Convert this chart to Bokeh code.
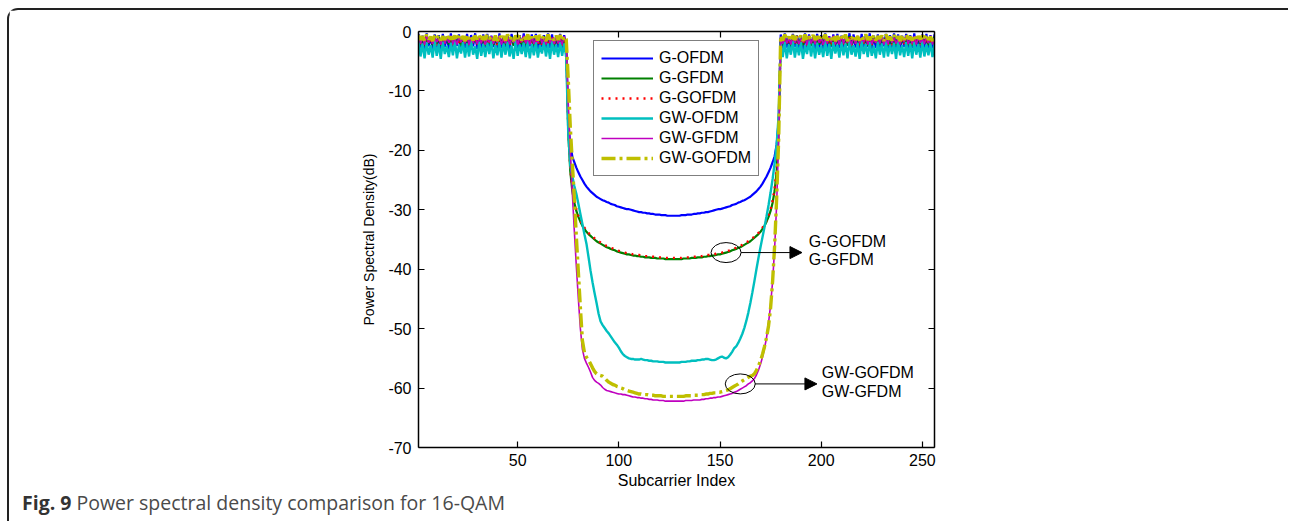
from bokeh.plotting import figure
from bokeh.layouts import column
from bokeh.models import (Range1d, LinearAxis, FixedTicker, CustomJSTickFormatter,
                          Legend, LegendItem, Label, Arrow, NormalHead, Div)
from bokeh.embed import file_html
from bokeh.resources import INLINE

# ---------------- data ----------------
x_ticks = [50, 100, 150, 200, 250]
y_ticks = [-70, -60, -50, -40, -30, -20, -10, 0]
series_names = ["G-OFDM", "G-GFDM", "G-GOFDM", "GW-OFDM", "GW-GFDM", "GW-GOFDM"]

# G-OFDM
g_ofdm_band_l = [-0.4,-2.8,-0.7,-3.1,-0.3,-2.5,-0.9,-3.0,-0.5,-2.7,
                 -0.6,-3.2,-0.4,-2.6,-0.8,-2.9,-0.3,-3.1,-0.7,-2.4,
                 -0.5,-3.0,-0.9,-2.8,-0.4,-3.2,-0.6,-2.5,-0.3,-2.9,
                 -0.8,-3.1,-0.5,-2.7,-0.4,-3.0,-0.7,-2.6,-0.6,-3.2,
                 -0.3,-2.8,-0.9,-2.9,-0.5,-3.1,-0.4,-2.4,-0.8,-3.0,
                 -0.6,-2.7,-0.3,-3.2,-0.7,-2.5,-0.5,-2.9,-0.4,-3.1,
                 -0.9,-2.6,-0.6,-3.0,-0.3,-2.8,-0.5,-3.2,-0.7,-2.7,
                 -0.4,-3.0,-0.6,-2.9]
g_ofdm_null_l = [-15.0,-19.0,-21.0,-22.0,-22.9,-23.7,-24.4,-25.0,-25.6,-26.1,
                 -26.5,-26.9,-27.2,-27.5,-27.8,-28.0,-28.2,-28.4,-28.5,-28.7,
                 -28.8,-29.0,-29.1,-29.2,-29.4,-29.5,-29.6,-29.7,-29.8,-29.9,
                 -29.9,-30.0,-30.1,-30.2,-30.3,-30.4,-30.4,-30.5,-30.5,-30.6,
                 -30.6,-30.7,-30.7,-30.8,-30.8,-30.8,-30.9,-30.9,-30.9,-31.0,
                 -31.0,-31.0,-31.0]
g_ofdm_null_r = [-31.0,-31.0,-31.0,-30.9,-30.9,-30.9,-30.8,-30.8,-30.8,-30.7,
                 -30.7,-30.6,-30.6,-30.5,-30.5,-30.4,-30.4,-30.3,-30.2,-30.1,
                 -30.0,-29.9,-29.9,-29.8,-29.7,-29.6,-29.5,-29.4,-29.2,-29.1,
                 -29.0,-28.8,-28.7,-28.5,-28.4,-28.2,-28.0,-27.8,-27.5,-27.2,
                 -26.9,-26.5,-26.1,-25.6,-25.0,-24.4,-23.7,-22.9,-22.0,-21.0,
                 -19.0,-15.0]
g_ofdm_band_r = [-0.5,-3.0,-0.3,-2.7,-0.8,-3.1,-0.4,-2.6,-0.6,-2.9,
                 -0.7,-3.2,-0.3,-2.8,-0.5,-2.5,-0.9,-3.0,-0.4,-2.7,
                 -0.6,-3.1,-0.3,-2.9,-0.8,-2.6,-0.5,-3.2,-0.4,-2.8,
                 -0.7,-3.0,-0.6,-2.4,-0.3,-3.1,-0.5,-2.7,-0.9,-2.9,
                 -0.4,-3.2,-0.6,-2.6,-0.3,-3.0,-0.7,-2.8,-0.5,-3.1,
                 -0.8,-2.5,-0.4,-2.9,-0.6,-3.2,-0.3,-2.7,-0.5,-3.0,
                 -0.7,-2.6,-0.4,-3.1,-0.6,-2.8,-0.3,-2.9,-0.8,-3.0,
                 -0.5,-2.7,-0.4,-3.2,-0.6,-2.8,-0.5]

# G-GFDM
g_gfdm_band_l = [-1.0,-2.2,-0.9,-2.4,-1.2,-2.0,-0.8,-2.3,-1.1,-2.1,
                 -0.9,-2.4,-1.3,-1.9,-1.0,-2.2,-0.8,-2.3,-1.2,-2.0,
                 -1.1,-2.4,-0.9,-2.1,-1.0,-2.3,-1.3,-1.9,-0.8,-2.2,
                 -1.2,-2.0,-1.0,-2.4,-0.9,-2.1,-1.1,-2.3,-0.8,-2.2,
                 -1.3,-1.9,-1.0,-2.3,-1.2,-2.1,-0.9,-2.4,-1.1,-2.0,
                 -0.8,-2.2,-1.0,-2.3,-1.3,-2.0,-0.9,-2.4,-1.2,-2.1,
                 -1.1,-2.2,-0.8,-2.3,-1.0,-1.9,-1.2,-2.4,-0.9,-2.1,
                 -1.0,-2.2,-1.1,-2.3]
g_gfdm_null_l = [-17.0,-23.5,-26.8,-28.8,-30.2,-31.2,-32.0,-32.7,-33.2,-33.7,
                 -34.1,-34.4,-34.7,-35.0,-35.3,-35.5,-35.7,-35.9,-36.1,-36.3,
                 -36.4,-36.6,-36.7,-36.8,-37.0,-37.1,-37.2,-37.3,-37.4,-37.5,
                 -37.5,-37.6,-37.7,-37.7,-37.8,-37.8,-37.9,-37.9,-38.0,-38.0,
                 -38.0,-38.1,-38.1,-38.1,-38.2,-38.2,-38.2,-38.2,-38.3,-38.3,
                 -38.3,-38.3,-38.3]
g_gfdm_null_r = [-38.3,-38.3,-38.3,-38.3,-38.2,-38.2,-38.2,-38.2,-38.1,-38.1,
                 -38.1,-38.0,-38.0,-38.0,-37.9,-37.9,-37.8,-37.8,-37.7,-37.7,
                 -37.6,-37.5,-37.5,-37.4,-37.3,-37.2,-37.1,-37.0,-36.8,-36.7,
                 -36.6,-36.4,-36.3,-36.1,-35.9,-35.7,-35.5,-35.3,-35.0,-34.7,
                 -34.4,-34.1,-33.7,-33.2,-32.7,-32.0,-31.2,-30.2,-28.8,-26.8,
                 -23.5,-17.0]
g_gfdm_band_r = [-1.1,-2.3,-0.9,-2.1,-1.2,-2.4,-1.0,-2.0,-0.8,-2.2,
                 -1.3,-2.3,-1.0,-1.9,-0.9,-2.4,-1.1,-2.1,-1.2,-2.2,
                 -0.8,-2.3,-1.0,-2.0,-1.3,-2.4,-0.9,-2.1,-1.1,-2.2,
                 -1.2,-1.9,-1.0,-2.3,-0.8,-2.4,-1.1,-2.0,-0.9,-2.2,
                 -1.3,-2.1,-1.0,-2.4,-1.2,-2.3,-0.9,-1.9,-1.1,-2.2,
                 -0.8,-2.0,-1.0,-2.4,-1.2,-2.1,-0.9,-2.3,-1.1,-2.2,
                 -1.3,-1.9,-1.0,-2.3,-0.8,-2.4,-1.2,-2.1,-0.9,-2.2,
                 -1.1,-2.0,-1.0,-2.3,-1.2,-2.1,-0.9]

# G-GOFDM
g_gofdm_band_l = [-0.9,-2.1,-1.1,-2.3,-0.8,-2.2,-1.2,-2.0,-1.0,-2.4,
                  -1.3,-2.2,-0.9,-2.1,-1.1,-1.9,-0.8,-2.3,-1.0,-2.4,
                  -1.2,-2.0,-0.9,-2.2,-1.3,-2.3,-1.0,-2.1,-0.8,-2.4,
                  -1.1,-1.9,-1.2,-2.2,-0.9,-2.3,-1.0,-2.0,-1.3,-2.4,
                  -0.8,-2.1,-1.1,-2.2,-1.0,-2.3,-1.2,-1.9,-0.9,-2.4,
                  -1.3,-2.0,-0.8,-2.2,-1.1,-2.3,-1.0,-2.1,-1.2,-2.4,
                  -0.9,-2.2,-1.0,-1.9,-1.3,-2.3,-0.8,-2.1,-1.1,-2.2,
                  -1.0,-2.4,-0.9,-2.1]
g_gofdm_null_l = [-16.5,-23.0,-26.4,-28.5,-29.9,-30.9,-31.8,-32.5,-33.0,-33.5,
                  -33.9,-34.2,-34.5,-34.8,-35.1,-35.3,-35.5,-35.7,-35.9,-36.1,
                  -36.2,-36.4,-36.5,-36.6,-36.8,-36.9,-37.0,-37.1,-37.2,-37.3,
                  -37.3,-37.4,-37.5,-37.5,-37.6,-37.6,-37.7,-37.7,-37.8,-37.8,
                  -37.8,-37.9,-37.9,-37.9,-38.0,-38.0,-38.0,-38.0,-38.1,-38.1,
                  -38.1,-38.1,-38.1]
g_gofdm_null_r = [-38.1,-38.1,-38.1,-38.1,-38.0,-38.0,-38.0,-38.0,-37.9,-37.9,
                  -37.9,-37.8,-37.8,-37.8,-37.7,-37.7,-37.6,-37.6,-37.5,-37.5,
                  -37.4,-37.3,-37.3,-37.2,-37.1,-37.0,-36.9,-36.8,-36.6,-36.5,
                  -36.4,-36.2,-36.1,-35.9,-35.7,-35.5,-35.3,-35.1,-34.8,-34.5,
                  -34.2,-33.9,-33.5,-33.0,-32.5,-31.8,-30.9,-29.9,-28.5,-26.4,
                  -23.0,-16.5]
g_gofdm_band_r = [-1.0,-2.2,-1.2,-2.4,-0.9,-2.0,-1.1,-2.3,-0.8,-2.1,
                  -1.3,-2.2,-1.0,-2.4,-0.9,-1.9,-1.2,-2.3,-1.1,-2.1,
                  -0.8,-2.2,-1.0,-2.0,-1.3,-2.4,-0.9,-2.3,-1.1,-2.1,
                  -1.2,-2.2,-0.8,-1.9,-1.0,-2.4,-1.3,-2.1,-0.9,-2.3,
                  -1.1,-2.0,-1.2,-2.2,-0.8,-2.4,-1.0,-2.3,-1.3,-2.1,
                  -0.9,-1.9,-1.1,-2.2,-1.0,-2.4,-1.2,-2.0,-0.8,-2.3,
                  -1.3,-2.1,-0.9,-2.2,-1.1,-2.4,-1.0,-1.9,-1.2,-2.3,
                  -0.8,-2.1,-1.0,-2.2,-1.1,-2.4,-0.9]

# GW-OFDM
gw_ofdm_band_l = [-1.6,-4.2,-2.0,-4.5,-1.8,-3.9,-2.3,-4.4,-1.5,-4.1,
                  -2.1,-4.6,-1.7,-3.8,-2.4,-4.3,-1.9,-4.0,-1.6,-4.5,
                  -2.2,-3.7,-1.8,-4.4,-2.0,-4.2,-1.5,-3.9,-2.5,-4.6,
                  -1.7,-4.1,-2.1,-4.3,-1.9,-3.8,-1.6,-4.5,-2.3,-4.0,
                  -1.8,-4.4,-2.0,-3.9,-1.7,-4.2,-2.4,-4.6,-1.5,-4.1,
                  -2.2,-3.8,-1.9,-4.3,-1.6,-4.5,-2.1,-4.0,-1.8,-4.4,
                  -2.3,-3.7,-1.7,-4.2,-2.0,-4.6,-1.6,-3.9,-2.2,-4.3,
                  -1.8,-4.1,-2.0,-4.4]
gw_ofdm_null_l = [-17.0,-22.5,-24.3,-26.0,-27.3,-29.0,-30.7,-32.4,-34.1,-35.7,
                  -37.9,-40.2,-42.2,-44.0,-45.7,-47.5,-48.8,-49.4,-49.9,-50.4,
                  -50.8,-51.3,-51.8,-52.3,-52.7,-53.2,-53.8,-54.3,-54.6,-54.8,
                  -55.0,-55.1,-55.1,-55.2,-55.2,-55.2,-55.1,-55.2,-55.3,-55.3,
                  -55.4,-55.4,-55.5,-55.5,-55.5,-55.6,-55.6,-55.6,-55.7,-55.7,
                  -55.7,-55.7,-55.7]
gw_ofdm_null_r = [-55.7,-55.7,-55.7,-55.6,-55.6,-55.6,-55.5,-55.5,-55.4,-55.4,
                  -55.4,-55.3,-55.3,-55.2,-55.2,-55.1,-55.1,-55.2,-55.3,-55.3,
                  -55.2,-55.0,-54.8,-54.7,-54.9,-55.0,-54.8,-54.4,-53.9,-53.3,
                  -53.0,-52.4,-51.7,-50.9,-49.9,-48.7,-47.3,-45.7,-43.9,-42.0,
                  -40.0,-38.1,-36.3,-34.6,-32.9,-31.1,-29.2,-27.1,-24.8,-22.2,
                  -19.0,-14.0]
gw_ofdm_band_r = [-2.0,-4.3,-1.7,-4.5,-2.2,-3.9,-1.6,-4.4,-2.1,-4.0,
                  -1.8,-4.6,-2.3,-3.8,-1.5,-4.2,-2.0,-4.5,-1.9,-3.9,
                  -2.4,-4.3,-1.6,-4.1,-2.1,-4.6,-1.8,-3.7,-2.2,-4.4,
                  -1.7,-4.0,-2.0,-4.5,-1.5,-3.9,-2.3,-4.2,-1.9,-4.6,
                  -1.6,-3.8,-2.1,-4.3,-1.8,-4.1,-2.4,-4.5,-1.7,-3.9,
                  -2.0,-4.4,-1.6,-4.2,-2.2,-3.8,-1.9,-4.6,-1.5,-4.0,
                  -2.3,-4.3,-1.8,-4.1,-2.0,-4.5,-1.7,-3.9,-2.1,-4.4,
                  -1.6,-4.2,-2.2,-4.0,-1.9,-4.3,-2.0]

# GW-GFDM
gw_gfdm_band_l = [-0.8,-2.0,-1.0,-2.2,-0.7,-1.9,-1.1,-2.1,-0.9,-1.8,
                  -1.2,-2.2,-0.8,-2.0,-1.0,-1.9,-0.7,-2.1,-1.1,-2.2,
                  -0.9,-1.8,-1.2,-2.0,-0.8,-2.2,-1.0,-1.9,-0.7,-2.1,
                  -1.1,-2.0,-0.9,-2.2,-1.2,-1.8,-0.8,-2.1,-1.0,-1.9,
                  -0.7,-2.2,-1.1,-2.0,-0.9,-2.1,-1.2,-1.9,-0.8,-2.2,
                  -1.0,-1.8,-0.7,-2.0,-1.1,-2.2,-0.9,-2.1,-1.2,-1.9,
                  -0.8,-2.0,-1.0,-2.2,-0.7,-1.9,-1.1,-2.1,-0.9,-2.0,
                  -1.2,-2.2,-0.8,-1.9]
gw_gfdm_null_l = [-12.0,-20.0,-27.0,-33.5,-39.5,-45.0,-50.0,-53.5,-55.0,-55.8,
                  -56.5,-57.3,-58.2,-58.7,-59.0,-59.2,-59.5,-59.9,-60.2,-60.4,
                  -60.5,-60.6,-60.7,-60.8,-60.9,-61.0,-61.0,-61.1,-61.1,-61.2,
                  -61.3,-61.4,-61.5,-61.5,-61.6,-61.6,-61.7,-61.7,-61.8,-61.8,
                  -61.9,-61.9,-62.0,-62.0,-62.0,-62.1,-62.1,-62.1,-62.2,-62.2,
                  -62.2,-62.2,-62.2]
gw_gfdm_null_r = [-62.2,-62.2,-62.2,-62.2,-62.2,-62.1,-62.1,-62.1,-62.1,-62.0,
                  -62.0,-62.0,-62.0,-61.9,-61.9,-61.8,-61.8,-61.7,-61.7,-61.6,
                  -61.6,-61.5,-61.5,-61.4,-61.3,-61.2,-61.1,-61.0,-60.9,-60.7,
                  -60.6,-60.4,-60.2,-60.0,-59.8,-59.6,-59.3,-59.1,-58.8,-58.4,
                  -57.8,-57.0,-56.0,-54.8,-53.3,-51.5,-49.0,-46.0,-42.0,-36.5,
                  -29.0,-18.0]
gw_gfdm_band_r = [-0.9,-2.1,-0.7,-2.0,-1.1,-2.2,-0.8,-1.9,-1.0,-2.1,
                  -1.2,-1.8,-0.9,-2.2,-0.7,-2.0,-1.1,-2.1,-0.8,-1.9,
                  -1.0,-2.2,-1.2,-2.0,-0.9,-1.8,-0.7,-2.1,-1.1,-2.2,
                  -0.8,-2.0,-1.0,-1.9,-1.2,-2.2,-0.9,-2.1,-0.7,-2.0,
                  -1.1,-1.8,-0.8,-2.2,-1.0,-2.1,-1.2,-1.9,-0.9,-2.0,
                  -0.7,-2.2,-1.1,-2.1,-0.8,-1.9,-1.0,-2.0,-1.2,-2.2,
                  -0.9,-1.8,-0.7,-2.1,-1.1,-2.0,-0.8,-2.2,-1.0,-1.9,
                  -1.2,-2.1,-0.9,-2.0,-0.7,-2.2,-1.1]

# GW-GOFDM
gw_gofdm_band_l = [-0.6,-1.4,-0.8,-1.5,-0.5,-1.3,-0.9,-1.6,-0.7,-1.2,
                   -0.6,-1.5,-0.8,-1.4,-0.5,-1.6,-0.9,-1.3,-0.7,-1.5,
                   -0.6,-1.2,-0.8,-1.6,-0.5,-1.4,-0.9,-1.5,-0.7,-1.3,
                   -0.6,-1.6,-0.8,-1.4,-0.5,-1.2,-0.9,-1.5,-0.7,-1.6,
                   -0.6,-1.3,-0.8,-1.5,-0.5,-1.4,-0.9,-1.6,-0.7,-1.2,
                   -0.6,-1.5,-0.8,-1.3,-0.5,-1.6,-0.9,-1.4,-0.7,-1.5,
                   -0.6,-1.2,-0.8,-1.6,-0.5,-1.3,-0.9,-1.5,-0.7,-1.4,
                   -0.6,-1.6,-0.8,-1.3]
gw_gofdm_null_l = [-8.0,-16.0,-22.0,-28.0,-34.5,-40.5,-46.5,-52.0,-54.0,-54.8,
                   -55.3,-55.9,-56.6,-57.2,-57.6,-57.8,-57.9,-58.0,-58.3,-58.7,
                   -59.0,-59.2,-59.4,-59.5,-59.7,-59.8,-60.0,-60.1,-60.3,-60.4,
                   -60.5,-60.6,-60.7,-60.8,-60.9,-61.0,-61.0,-61.1,-61.1,-61.1,
                   -61.2,-61.2,-61.2,-61.3,-61.3,-61.3,-61.3,-61.4,-61.4,-61.4,
                   -61.4,-61.4,-61.4]
gw_gofdm_null_r = [-61.4,-61.4,-61.4,-61.4,-61.4,-61.3,-61.3,-61.3,-61.3,-61.2,
                   -61.2,-61.2,-61.1,-61.1,-61.1,-61.0,-61.0,-60.9,-60.9,-60.8,
                   -60.8,-60.7,-60.7,-60.6,-60.5,-60.4,-60.3,-60.1,-59.9,-59.7,
                   -59.5,-59.3,-59.0,-58.8,-58.6,-58.4,-58.2,-58.0,-57.9,-57.6,
                   -57.0,-56.3,-55.4,-54.3,-53.0,-51.5,-49.5,-46.5,-42.0,-36.0,
                   -28.0,-18.0]
gw_gofdm_band_r = [-0.7,-1.5,-0.5,-1.3,-0.9,-1.6,-0.6,-1.4,-0.8,-1.2,
                   -0.7,-1.6,-0.5,-1.5,-0.9,-1.3,-0.6,-1.4,-0.8,-1.6,
                   -0.7,-1.2,-0.5,-1.5,-0.9,-1.4,-0.6,-1.6,-0.8,-1.3,
                   -0.7,-1.5,-0.5,-1.6,-0.9,-1.2,-0.6,-1.4,-0.8,-1.5,
                   -0.7,-1.3,-0.5,-1.4,-0.9,-1.6,-0.6,-1.5,-0.8,-1.2,
                   -0.7,-1.6,-0.5,-1.3,-0.9,-1.5,-0.6,-1.4,-0.8,-1.6,
                   -0.7,-1.4,-0.5,-1.2,-0.9,-1.5,-0.6,-1.6,-0.8,-1.3,
                   -0.7,-1.5,-0.5,-1.4,-0.9,-1.6,-0.6]

g_ofdm = g_ofdm_band_l + g_ofdm_null_l + g_ofdm_null_r + g_ofdm_band_r
g_gfdm = g_gfdm_band_l + g_gfdm_null_l + g_gfdm_null_r + g_gfdm_band_r
g_gofdm = g_gofdm_band_l + g_gofdm_null_l + g_gofdm_null_r + g_gofdm_band_r
gw_ofdm = gw_ofdm_band_l + gw_ofdm_null_l + gw_ofdm_null_r + gw_ofdm_band_r
gw_gfdm = gw_gfdm_band_l + gw_gfdm_null_l + gw_gfdm_null_r + gw_gfdm_band_r
gw_gofdm = gw_gofdm_band_l + gw_gofdm_null_l + gw_gofdm_null_r + gw_gofdm_band_r

all_series = [g_ofdm, g_gfdm, g_gofdm, gw_ofdm, gw_gfdm, gw_gofdm]
for nm, s in zip(series_names, all_series):
    assert len(s) == 256, (nm, len(s))
subcarrier = list(range(1, 257))

# ---------------- figure ----------------
FONT = "Liberation Sans"
# the figure canvas starts at page (9, 10): 7/8 px margin + 2 px border of the box
p = figure(width=1281, height=484, output_backend="svg", toolbar_location=None,
           x_range=Range1d(1, 256), y_range=Range1d(-70, 0),
           min_border_left=409, min_border_right=354, min_border_top=21, min_border_bottom=47,
           background_fill_color="white", border_fill_color="white")
p.outline_line_color = None
p.xgrid.visible = False
p.ygrid.visible = False

styles = [
    dict(color="#0000FF", line_width=2.2, line_dash="solid"),
    dict(color="#008000", line_width=2.2, line_dash="solid"),
    dict(color="#FF0000", line_width=2.4, line_dash="2 5"),
    dict(color="#00BFBF", line_width=2.4, line_dash="solid"),
    dict(color="#BF00BF", line_width=1.6, line_dash="solid"),
    dict(color="#BFBF00", line_width=3.4, line_dash="14 4 3 4"),
]
renderers = []
for s, st in zip(all_series, styles):
    r = p.line(subcarrier, s, line_color=st["color"], line_width=st["line_width"],
               line_dash=st["line_dash"])
    renderers.append(r)

# axes styling
for ax in [p.xaxis[0], p.yaxis[0]]:
    ax.axis_line_width = 1.5
    ax.axis_line_color = "black"
    ax.major_tick_in = 6
    ax.major_tick_out = 0
    ax.minor_tick_in = 0
    ax.minor_tick_out = 0
    ax.major_tick_line_width = 1.2
    ax.major_label_text_font = FONT
    ax.major_label_text_font_size = "16px"
    ax.major_label_text_color = "black"
    ax.axis_label_text_font = FONT
    ax.axis_label_text_font_style = "normal"
    ax.axis_label_text_color = "black"
p.xaxis[0].axis_label_text_font_size = "16px"
p.yaxis[0].axis_label_text_font_size = "14px"
p.xaxis[0].ticker = FixedTicker(ticks=x_ticks)
p.yaxis[0].ticker = FixedTicker(ticks=y_ticks)
p.xaxis[0].major_label_overrides = {t: str(t) for t in x_ticks}
p.yaxis[0].major_label_overrides = {t: str(t) for t in y_ticks}
p.xaxis[0].axis_label = "Subcarrier Index"
p.yaxis[0].axis_label = "Power Spectral Density(dB)"
p.xaxis[0].major_label_standoff = 6
p.xaxis[0].axis_label_standoff = 3
p.yaxis[0].major_label_standoff = 7
p.yaxis[0].axis_label_standoff = 8

blank = CustomJSTickFormatter(code="return ''")
top_ax = LinearAxis(ticker=FixedTicker(ticks=x_ticks), formatter=blank)
right_ax = LinearAxis(ticker=FixedTicker(ticks=y_ticks), formatter=blank)
for ax in [top_ax, right_ax]:
    ax.axis_line_width = 1.5
    ax.major_tick_in = 6
    ax.major_tick_out = 0
    ax.minor_tick_in = 0
    ax.minor_tick_out = 0
    ax.major_tick_line_width = 1.2
    ax.major_label_text_font_size = "1px"
p.add_layout(top_ax, "above")
p.add_layout(right_ax, "right")

# legend
legend = Legend(items=[LegendItem(label=n, renderers=[r]) for n, r in zip(series_names, renderers)],
                location=(175, 271), orientation="vertical")
legend.border_line_color = "black"
legend.border_line_width = 1.2
legend.background_fill_color = "white"
legend.background_fill_alpha = 1
legend.padding = 7
legend.spacing = 0
legend.margin = 0
legend.label_height = 20
legend.glyph_height = 20
legend.glyph_width = 52
legend.label_standoff = 6
legend.label_text_font = FONT
legend.label_text_font_size = "16px"
legend.label_text_color = "black"
p.add_layout(legend, "center")

# callout ellipses, arrows and texts
ell_x = [153, 160]
ell_y = [-37.2, -59.3]
p.ellipse(x=ell_x, y=ell_y, width=30, height=20, width_units="screen", height_units="screen",
          fill_color=None, line_color="black", line_width=1)
head = dict(size=12, fill_color="black", line_color="black")
p.add_layout(Arrow(end=NormalHead(**head), x_start=160.4, y_start=-37.2, x_end=190.5, y_end=-37.2,
                   line_width=1, line_color="black"))
p.add_layout(Arrow(end=NormalHead(**head), x_start=167.3, y_start=-59.3, x_end=197.9, y_end=-59.3,
                   line_width=1, line_color="black"))
for txt, tx, ty in [("G-GOFDM", 193.9, -35.3), ("G-GFDM", 193.9, -38.3),
                    ("GW-GOFDM", 200.3, -57.4), ("GW-GFDM", 200.3, -60.6)]:
    p.add_layout(Label(x=tx, y=ty, text=txt, text_font=FONT, text_font_size="16px",
                       text_color="black", text_baseline="middle", text_align="left"))

# caption below the chart
caption = Div(text='<div style="position:relative;top:-9px;white-space:nowrap">'
                   '<span style="font-weight:700;color:#333333">Fig. 9</span>'
                   ' Power spectral density comparison for 16-QAM</div>',
              width=1281, height=29,
              styles={"font-family": "'Open Sans', sans-serif", "font-size": "19.5px",
                      "color": "#4a4a4a", "padding-left": "8px", "padding-top": "1px",
                      "line-height": "24px", "box-sizing": "border-box"})

# rounded frame around figure + caption (its right and bottom edges lie off the page)
root = column(p, caption, width=1281, height=513, margin=(8, 0, 0, 7), spacing=0,
              styles={"border-top": "2px solid #222222", "border-left": "2px solid #222222",
                      "border-top-left-radius": "11px", "background": "white"})

open("out.html", "w").write(file_html(root, INLINE))
